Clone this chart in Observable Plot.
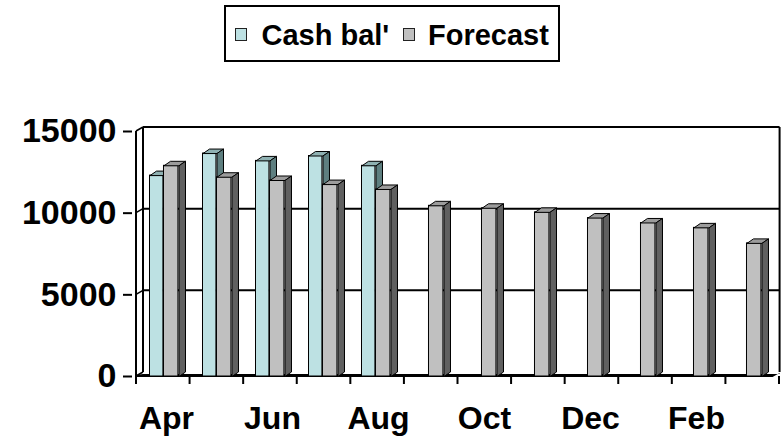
<!DOCTYPE html>
<html>
<head>
<meta charset="utf-8">
<script src="https://cdn.jsdelivr.net/npm/d3@7"></script>
<script src="https://cdn.jsdelivr.net/npm/@observablehq/plot@0.6"></script>
<style>
  body { margin: 0; background: #fff; font-family: "Liberation Sans", Arial, sans-serif; }
  #chart { width: 784px; height: 439px; position: relative; overflow: hidden; }
  #legend { height: 70px; position: relative; }
  #legend .box {
    position: absolute; left: 224px; top: 5px; width: 332px; height: 53px;
    border: 2px solid #000; background: #fff;
  }
  #legend .sw {
    position: absolute; top: 21px; width: 10px; height: 11px;
    border: 1.5px solid #222;
  }
  #legend .lab {
    position: absolute; top: 13.5px; font-size: 29px; line-height: 29px;
    font-weight: bold; color: #000; white-space: nowrap;
  }
  svg { display: block; }
</style>
</head>
<body>
<div id="chart">
  <div id="legend"><div class="box"></div></div>
</div>
<script>
// Months of the financial year, April to March
const months = ["Apr", "May", "Jun", "Jul", "Aug", "Sep", "Oct", "Nov", "Dec", "Jan", "Feb", "Mar"];
// Actual cash balance (only known for the first five months)
const cashBal = [12300, 13650, 13200, 13500, 12900, null, null, null, null, null, null, null];
// Forecast balance for every month
const forecast = [12900, 12200, 12000, 11750, 11450, 10450, 10300, 10050, 9700, 9400, 9100, 8150];
const seriesNames = ["Cash bal'", "Forecast"];
const yTicks = [0, 5000, 10000, 15000];
const xLabels = ["Apr", "Jun", "Aug", "Oct", "Dec", "Feb"];

// Face colours per series: front, top, side
const palette = {
  "Cash bal'": {front: "#bde1e3", top: "#8fb1b2", side: "#5e7f80"},
  "Forecast": {front: "#c0c0c0", top: "#9c9c9c", side: "#606060"}
};

const rows = [];
months.forEach((m, i) => {
  if (cashBal[i] != null) rows.push({month: m, series: seriesNames[0], value: cashBal[i]});
  if (forecast[i] != null) rows.push({month: m, series: seriesNames[1], value: forecast[i]});
});

// Layout
const W = 784, H = 369;
const mL = 132, mR = 9, mT = 61, mB = 63;
const step = (W - mL - mR) / months.length;
// Column placement inside each month slot (fractions of the slot)
const slot = {"Cash bal'": [0.252, 0.513], "Forecast": [0.513, 0.793]};
const BDX = 6.5, BDY = -4.5;   // column depth
const WDX = 7, WDY = -4;       // wall depth

// Legend
const legend = document.querySelector("#legend .box");
[["Cash bal'", 9, 35.5], ["Forecast", 177, 202]].forEach(([name, sx, tx]) => {
  const sw = document.createElement("div");
  sw.className = "sw"; sw.style.left = sx + "px"; sw.style.background = palette[name].front;
  legend.appendChild(sw);
  const t = document.createElement("div");
  t.className = "lab"; t.style.left = tx + "px"; t.textContent = name;
  legend.appendChild(t);
});

// Back wall, side wall, floor, value axis line and category ticks
function walls(index, {x, y}) {
  const x0 = x(months[0]), x1 = x(months[months.length - 1]) + step;
  const y0 = y(0), yTop = y(yTicks[yTicks.length - 1]);
  const g = d3.create("svg:g").attr("fill", "none").attr("stroke", "#000");
  // gridlines on the back wall, joined to the value axis across the side wall
  for (const v of yTicks) {
    const yy = y(v);
    if (v !== 0) {
      g.append("line").attr("stroke-width", 2)
        .attr("x1", x0 + WDX).attr("x2", x1 + WDX).attr("y1", yy + WDY).attr("y2", yy + WDY);
    }
    g.append("line").attr("stroke-width", 1.5)
      .attr("x1", x0).attr("x2", x0 + WDX).attr("y1", yy).attr("y2", yy + WDY);
  }
  // wall edges
  g.append("line").attr("stroke-width", 2)
    .attr("x1", x0 + WDX).attr("x2", x0 + WDX).attr("y1", yTop + WDY).attr("y2", y0 + WDY);
  g.append("line").attr("stroke-width", 2)
    .attr("x1", x1 + WDX).attr("x2", x1 + WDX).attr("y1", yTop + WDY).attr("y2", y0 + WDY);
  // floor seen edge-on: a thin dark band along the category axis
  g.append("path").attr("fill", "#000").attr("stroke", "none")
    .attr("d", `M${x0},${y0 + 1}L${x1},${y0 + 1}L${x1 + WDX},${y0 + WDY + 1}L${x1 + WDX},${y0 - 2}L${x0 + WDX},${y0 - 2}L${x0},${y0 - 1}Z`);
  // value axis line
  g.append("line").attr("stroke-width", 2)
    .attr("x1", x0).attr("x2", x0).attr("y1", yTop).attr("y2", y0);
  // category ticks at slot boundaries
  for (let k = 0; k <= months.length; k++) {
    const xx = x0 + k * step;
    g.append("line").attr("stroke-width", 2)
      .attr("x1", xx).attr("x2", xx).attr("y1", y0).attr("y2", y0 + 8);
  }
  return g.node();
}

// Top and side faces of the columns of one series
function faces(name) {
  return (index, {x, y}) => {
    const c = palette[name], [a, b] = slot[name];
    const g = d3.create("svg:g").attr("stroke", "#000").attr("stroke-width", 1)
      .attr("stroke-linejoin", "round").attr("transform", "translate(0.5,0.5)");
    for (const d of rows.filter(r => r.series === name)) {
      const xl = x(d.month) + a * step, xr = x(d.month) + b * step;
      const yt = y(d.value), yb = y(0);
      g.append("path").attr("fill", c.top)
        .attr("d", `M${xl},${yt}L${xr},${yt}L${xr + BDX},${yt + BDY}L${xl + BDX},${yt + BDY}Z`);
      g.append("path").attr("fill", c.side)
        .attr("d", `M${xr},${yt}L${xr + BDX},${yt + BDY}L${xr + BDX},${yb + BDY}L${xr},${yb}Z`);
    }
    return g.node();
  };
}

function fronts(name) {
  const [a, b] = slot[name];
  return Plot.barY(rows.filter(r => r.series === name), {
    x: "month", y: "value", fill: palette[name].front, stroke: "#000", strokeWidth: 1,
    insetLeft: a * step, insetRight: (1 - b) * step
  });
}

const chart = Plot.plot({
  width: W, height: H,
  marginLeft: mL, marginRight: mR, marginTop: mT, marginBottom: mB,
  style: {fontFamily: "'Liberation Sans', Arial, sans-serif", background: "transparent", color: "#000", overflow: "visible"},
  x: {type: "band", domain: months, padding: 0},
  y: {domain: [0, 15000]},
  marks: [
    walls,
    fronts("Cash bal'"),
    faces("Cash bal'"),
    fronts("Forecast"),
    faces("Forecast"),
    Plot.axisY({ticks: yTicks, tickSize: 9, tickPadding: 7, strokeWidth: 2, tickFormat: d => String(d),
      fontSize: 34, fontWeight: "bold", label: null}),
    Plot.axisX({ticks: xLabels, tickSize: 0, tickPadding: 30, dx: 3.5,
      fontSize: 32, fontWeight: "bold", label: null})
  ]
});
document.getElementById("chart").appendChild(chart);
</script>
</body>
</html>
